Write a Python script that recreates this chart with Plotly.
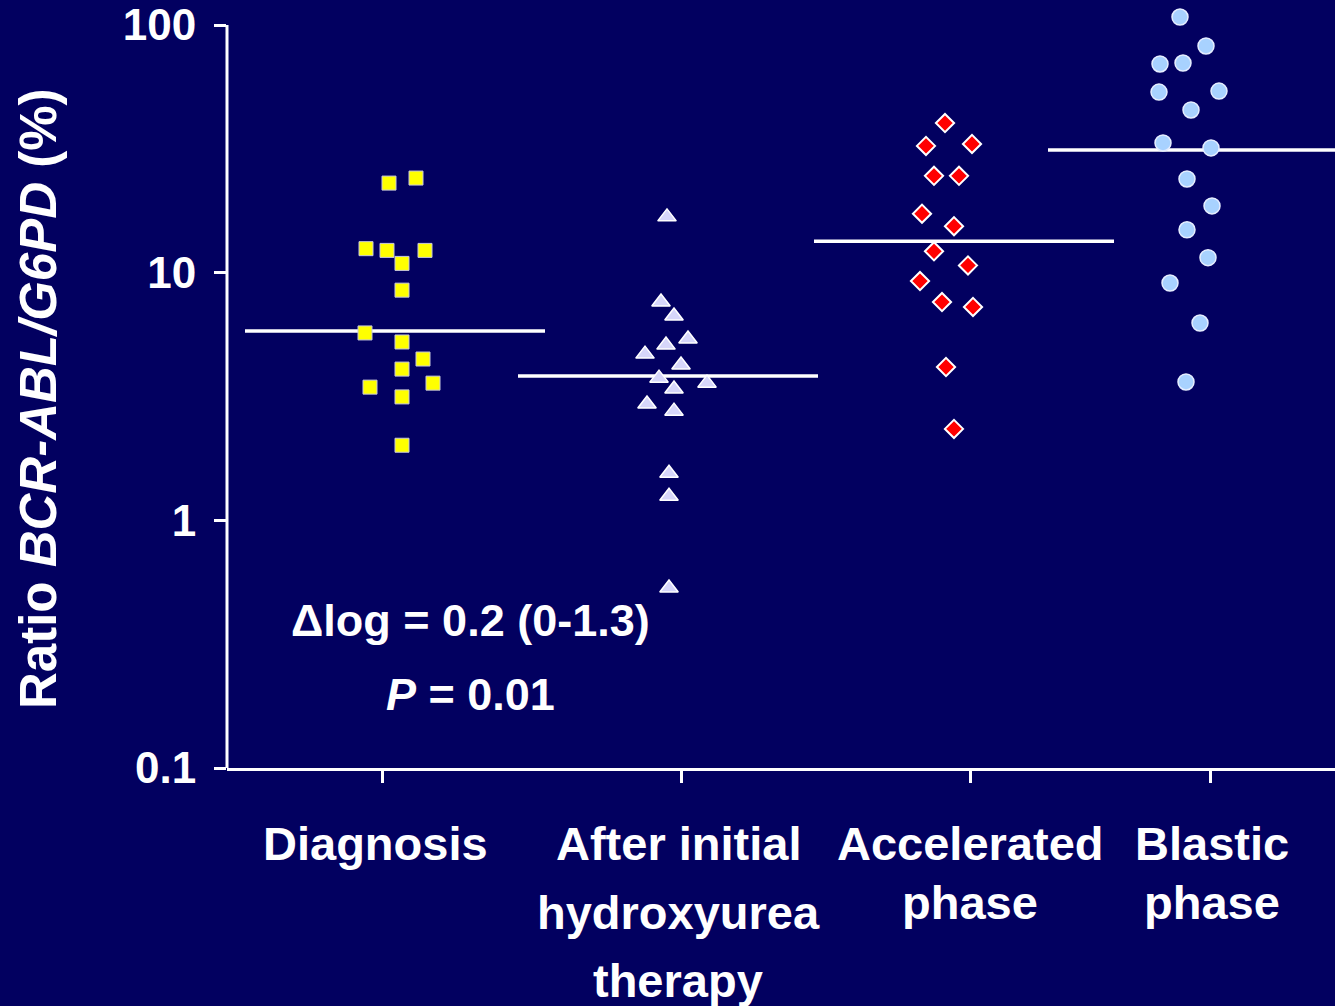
import plotly.graph_objects as go

# ---------------- data ----------------
categories = ["Diagnosis", "After initial<br>hydroxyurea<br>therapy", "Accelerated<br>phase", "Blastic<br>phase"]

diag_vals = [23.0, 24.1, 12.5, 12.3, 12.3, 10.9, 8.5, 5.71, 5.25, 4.48, 4.08, 3.58, 3.45, 3.15, 2.01]
diag_jit = [7, 34, -16, 5, 43, 20, 20, -17, 20, 41, 20, 51, -12, 20, 20]

hu_vals = [16.8, 7.61, 6.68, 5.40, 5.10, 4.69, 4.24, 3.75, 3.58, 3.39, 2.95, 2.76, 1.55, 1.25, 0.533]
hu_jit = [-14, -20, -7, 7, -15, -36, 0, -22, 26, -7, -34, -7, -12, -12, -12]

acc_vals = [40.2, 32.5, 33.1, 24.6, 24.6, 17.3, 15.4, 12.2, 10.7, 9.25, 7.61, 7.27, 4.16, 2.34]
acc_jit = [-25, -44, 2, -36, -11, -48, -16, -36, -2, -50, -28, 3, -24, -16]

bl_vals = [107.7, 82.3, 69.6, 70.2, 53.6, 54.1, 45.4, 33.4, 31.9, 23.9, 18.6, 14.9, 11.5, 9.08, 6.26, 3.62]
bl_jit = [-30, -4, -50, -27, -51, 9, -19, -47, 1, -23, 2, -23, -2, -40, -10, -24]

medians = [5.81, 3.83, 13.4, 31.3]

y_tick_vals = [0.1, 1, 10, 100]
y_tick_text = ["0.1", "1", "10", "100"]

# ---------------- layout helpers (positions) ----------------
centers = [1.55, 4.54, 7.43, 9.83]          # tick positions (x axis units)
median_centers = [1.68, 4.41, 7.37, 9.71]
median_half = 1.50
label_x = [1.48, 4.51, 7.43, 9.85]
JIT = 0.01

BG = "#020060"
FONT = "Liberation Sans, Arial, sans-serif"

TOP = 5        # top margin (px)
BOTTOM_PX = 768
PLOT_H = BOTTOM_PX - TOP
Y_MAX_LOG = 2 + 20 / 247.67   # a little headroom above 100 for the top point


def py(px):
    """pixel row -> paper y"""
    return (BOTTOM_PX - px) / PLOT_H


fig = go.Figure()

# median lines (drawn first so markers sit on top)
for mc, mv in zip(median_centers, medians):
    fig.add_trace(go.Scatter(
        x=[mc - median_half, mc + median_half], y=[mv, mv],
        mode="lines", line=dict(color="white", width=3.5),
        hoverinfo="skip", showlegend=False))

groups = [
    (diag_vals, diag_jit, 0, dict(symbol="square", size=14, color="#ffff00",
                                  line=dict(color="#c8c8dc", width=1))),
    (hu_vals, hu_jit, 1, dict(symbol="triangle-up", size=16, color="#d6d6fa",
                              line=dict(color="white", width=1.5))),
    (acc_vals, acc_jit, 2, dict(symbol="diamond", size=14, color="#ff0000",
                                line=dict(color="white", width=2))),
    (bl_vals, bl_jit, 3, dict(symbol="circle", size=16, color="#a8d2ff",
                              line=dict(color="#e6eeff", width=1.5))),
]
for vals, jit, gi, mk in groups:
    fig.add_trace(go.Scatter(
        x=[centers[gi] + j * JIT for j in jit], y=vals,
        mode="markers", marker=mk, cliponaxis=False,
        showlegend=False, hoverinfo="y"))

annotations = []
# x category labels (each line positioned separately)
line_y = {
    0: [843],
    1: [843, 912, 980],
    2: [843, 902],
    3: [843, 902],
}
for gi, cat in enumerate(categories):
    parts = cat.split("<br>")
    for li, part in enumerate(parts):
        annotations.append(dict(
            x=label_x[gi], xref="x", y=0, yref="paper",
            yshift=-(line_y[gi][li] - BOTTOM_PX), yanchor="middle", xanchor="center",
            text="<b>" + part + "</b>", showarrow=False,
            font=dict(family=FONT, size=47, color="white")))

# y title
annotations.append(dict(
    x=0, xref="paper", xshift=-189, y=py(399), yref="paper",
    xanchor="center", yanchor="middle", textangle=-90, showarrow=False,
    text="<b>Ratio <i>BCR-ABL/G6PD</i> (%)</b>",
    font=dict(family=FONT, size=51, color="white")))

# statistics text
annotations.append(dict(
    x=0, xref="paper", xshift=243, y=py(620), yref="paper",
    xanchor="center", yanchor="middle", showarrow=False,
    text="<b>\u0394log = 0.2 (0-1.3)</b>",
    font=dict(family=FONT, size=45, color="white")))
annotations.append(dict(
    x=0, xref="paper", xshift=243, y=py(694), yref="paper",
    xanchor="center", yanchor="middle", showarrow=False,
    text="<b><i>P</i> = 0.01</b>",
    font=dict(family=FONT, size=45, color="white")))

# y axis line only from the lowest to the highest tick
shapes = [dict(type="line", xref="paper", x0=0, x1=0, yref="y",
               y0=y_tick_vals[0], y1=y_tick_vals[-1],
               line=dict(color="white", width=3), layer="above")]

fig.update_layout(
    width=1335, height=1006,
    margin=dict(l=227, r=0, t=TOP, b=1006 - BOTTOM_PX, pad=0),
    paper_bgcolor=BG, plot_bgcolor=BG,
    annotations=annotations,
    shapes=shapes,
    showlegend=False,
    xaxis=dict(range=[0, 11.08], showgrid=False, zeroline=False,
               showline=True, linecolor="white", linewidth=3,
               ticks="outside", ticklen=12, tickwidth=2.5, tickcolor="white",
               tickvals=centers, showticklabels=False, fixedrange=True),
    yaxis=dict(type="log", range=[-1, Y_MAX_LOG], showgrid=False, zeroline=False,
               showline=False,
               ticks="outside", ticklen=12, tickwidth=2.5, tickcolor="white",
               tickvals=y_tick_vals, ticktext=y_tick_text,
               ticklabelstandoff=9,
               tickfont=dict(family=FONT, size=44, color="white", weight="bold"),
               fixedrange=True),
)

fig.write_html("out.html")
